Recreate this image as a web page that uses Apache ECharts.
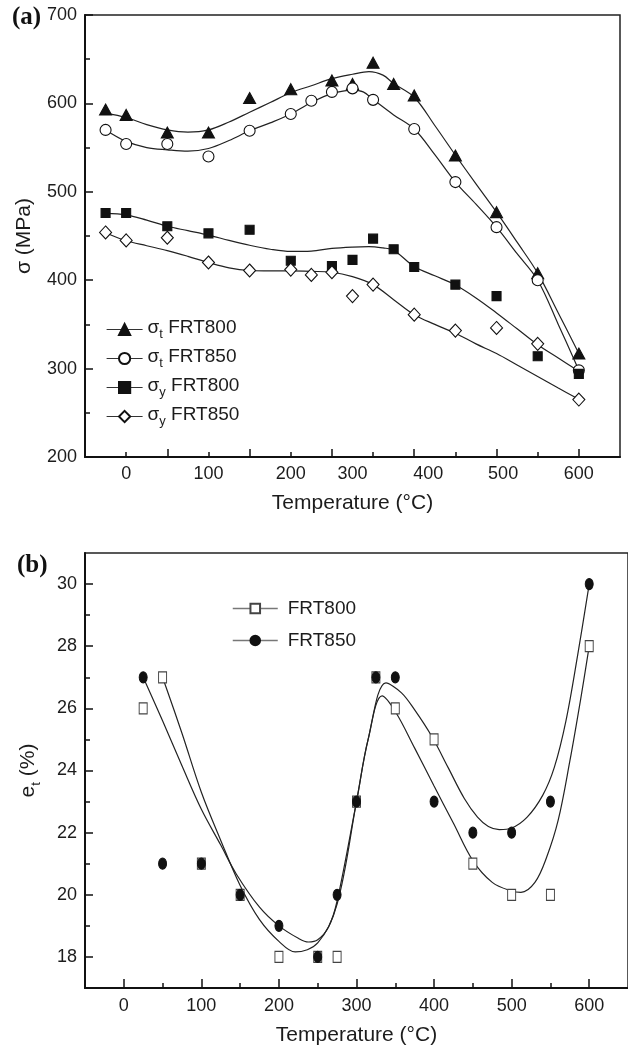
<!DOCTYPE html>
<html>
<head>
<meta charset="utf-8">
<script src="https://cdn.jsdelivr.net/npm/echarts@6/dist/echarts.min.js"></script>
<style>
  html, body { margin: 0; padding: 0; background: #fff; }
  #chart { width: 628px; height: 1047px; }
</style>
</head>
<body>
<div id="chart"></div>
<script>
// ── (a) Strength vs temperature: measured points ─────────────────────────
const tempT800 = [25, 50, 100, 150, 200, 250, 300, 325, 350, 375, 400, 450, 500, 550, 600];
const sigT800  = [593, 587, 567, 567, 606, 616, 626, 622, 646, 622, 609, 541, 477, 408, 317];
const tempT850 = [25, 50, 100, 150, 200, 250, 275, 300, 325, 350, 400, 450, 500, 550, 600];
const sigT850  = [570, 554, 554, 540, 569, 588, 603, 613, 617, 604, 571, 511, 460, 400, 298];
const tempY800 = [25, 50, 100, 150, 200, 250, 300, 325, 350, 375, 400, 450, 500, 550, 600];
const sigY800  = [476, 476, 461, 453, 457, 422, 416, 423, 447, 435, 415, 395, 382, 314, 294];
const tempY850 = [25, 50, 100, 150, 200, 250, 275, 300, 325, 350, 400, 450, 500, 550, 600];
const sigY850  = [454, 445, 448, 420, 411, 412, 406, 409, 382, 395, 361, 343, 346, 328, 265];

// ── (a) fitted curves ────────────────────────────────────────────────────
const fitT800x = [25, 50, 75, 100, 125, 150, 175, 200, 225, 250, 275, 300, 325, 345, 362, 375, 400, 425, 450, 475, 500, 525, 550, 575, 600];
const fitT800y = [589, 584, 576, 570, 567.5, 570, 579, 590, 601, 612, 620, 628, 633, 636, 632, 622.5, 607, 575, 541.5, 509, 477, 443, 408, 363, 317];
const fitT850x = [25, 50, 75, 100, 125, 150, 175, 200, 225, 250, 275, 300, 325, 338, 350, 375, 400, 425, 450, 475, 500, 525, 550, 575, 600];
const fitT850y = [570, 557, 550, 547.5, 546, 549, 558, 569, 578, 588, 601, 611, 615, 613, 604.5, 587, 571, 542, 511, 486, 460, 430, 400, 350, 298];
const fitY800x = [25, 50, 75, 100, 125, 150, 175, 200, 225, 250, 275, 300, 325, 345, 362, 375, 400, 425, 450, 475, 500, 525, 550, 575, 600];
const fitY800y = [475.6, 474, 468, 461, 456, 451, 445, 439.5, 435, 432.5, 433, 436, 437.5, 438, 436.5, 434, 415.5, 405, 394.6, 380, 363, 345, 327, 312, 297];
const fitY850x = [25, 50, 75, 100, 125, 150, 175, 200, 225, 250, 275, 300, 325, 350, 375, 400, 425, 450, 475, 500, 525, 550, 575, 600];
const fitY850y = [453.7, 444.6, 439, 433.5, 427, 420, 414, 411, 410.5, 410.5, 410, 409, 404, 395, 378, 361, 350, 340, 328, 317, 304, 291, 278, 265.4];

// ── (a) axis ticks / labels ──────────────────────────────────────────────
const xMajorA = [100, 200, 300, 400, 500, 600];
const xMinorA = [50, 150, 250, 350, 450, 550];
const xLabelPosA  = [50, 150, 250, 325, 417, 508, 600];   // where the printed labels sit
const xLabelTextA = ['0', '100', '200', '300', '400', '500', '600'];

// ── (b) Elongation vs temperature ────────────────────────────────────────
const tempB   = [25, 50, 100, 150, 200, 250, 275, 300, 325, 350, 400, 450, 500, 550, 600];
const elong800 = [26, 27, 21, 20, 18, 18, 18, 23, 27, 26, 25, 21, 20, 20, 28];
const elong850 = [27, 21, 21, 20, 19, 18, 20, 23, 27, 27, 23, 22, 22, 23, 30];

const fitE800x = [50, 75, 100, 125, 150, 175, 200, 221, 250, 275, 300, 315, 333, 350, 375, 400, 425, 450, 475, 500, 512, 530, 545, 560, 575, 589, 600];
const fitE800y = [27.0, 25.2, 23.3, 21.75, 20.3, 19.2, 18.5, 18.16, 18.45, 19.7, 23.0, 25.0, 26.4, 25.9, 24.72, 23.5, 22.3, 21.1, 20.4, 20.12, 20.08, 20.4, 21.2, 22.4, 24.3, 26.3, 28.0];
const fitE850x = [25, 50, 75, 100, 125, 145, 175, 200, 225, 238, 250, 264, 275, 300, 315, 338, 358, 375, 397, 418, 439, 456, 470, 484, 500, 520, 540, 555, 570, 585, 600];
const fitE850y = [27.0, 25.6, 24.15, 22.75, 21.6, 20.67, 19.6, 19.0, 18.6, 18.48, 18.55, 18.96, 19.8, 23.0, 25.0, 26.82, 26.5, 25.95, 25.1, 24.1, 23.1, 22.5, 22.2, 22.1, 22.15, 22.5, 23.2, 24.1, 25.6, 27.7, 30.0];

const xMajorB = [0, 100, 200, 300, 400, 500, 600];
const xMinorB = [50, 150, 250, 350, 450, 550];
const yMajorB = [18, 20, 22, 24, 26, 28, 30];
const yMinorB = [19, 21, 23, 25, 27, 29];

// ── helpers ──────────────────────────────────────────────────────────────
const FONT = 'Liberation Sans, Arial, sans-serif';
const INK = '#1c1c1c';
const zip = (xs, ys) => xs.map((x, i) => [x, ys[i]]);

function fitLine(xs, ys, xi, yi) {
  return {
    type: 'line', xAxisIndex: xi, yAxisIndex: yi, data: zip(xs, ys),
    smooth: 0.35, showSymbol: false, symbol: 'none', silent: true, z: 2,
    lineStyle: { color: '#222', width: 1.2 },
  };
}
function marks(name, xs, ys, xi, yi, symbol, size, fill, stroke) {
  return {
    name, type: 'line', xAxisIndex: xi, yAxisIndex: yi, data: zip(xs, ys),
    symbol, symbolSize: size, showSymbol: true, z: 3,
    lineStyle: { width: 0, opacity: 0 },
    itemStyle: { color: fill, borderColor: stroke, borderWidth: 1.1, opacity: 1 },
  };
}

const tickLabel = { color: INK, fontSize: 18, fontFamily: FONT };
const axisLine = { show: true, onZero: false, lineStyle: { color: '#111', width: 2 } };
const noLine = { show: false, onZero: false };
const tickLine = { color: '#111', width: 1.5 };
// g = normal text, s = subscript (g gets bottom padding so s sits lower)
const rich = {
  g: { fontSize: 19, fontFamily: FONT, color: INK, verticalAlign: 'bottom', padding: [0, 0, 4, 0] },
  s: { fontSize: 13, fontFamily: FONT, color: INK, verticalAlign: 'bottom' },
};
const labelFont = { fontFamily: 'Liberation Serif, serif', fontWeight: 'bold', fontSize: 25, color: '#111' };

const chart = echarts.init(document.getElementById('chart'), null, { renderer: 'canvas' });

chart.setOption({
  animation: false,
  backgroundColor: '#fff',
  title: [
    { text: '(a)', left: 12, top: 5, padding: 0, textStyle: labelFont },
    { text: '(b)', left: 17, top: 553, padding: 0, textStyle: labelFont },
  ],
  grid: [
    { left: 85, right: 8, top: 15, bottom: 590, show: true, borderColor: '#222', borderWidth: 1.5 },
    { left: 85, right: -3, top: 553, bottom: 56, show: true, borderColor: '#222', borderWidth: 1.5 },
  ],
  legend: [
    {
      orient: 'vertical', left: 106, top: 318, padding: 0, itemGap: 6,
      itemWidth: 36, itemHeight: 14, selectedMode: false,
      data: ['σt FRT800', 'σt FRT850', 'σy FRT800', 'σy FRT850'],
      lineStyle: { width: 1.2, color: '#333', opacity: 1 },
      formatter: n => `{g|σ}{s|${n[1]}}{g| ${n.slice(3)}}`,
      textStyle: { rich },
    },
    {
      orient: 'vertical', left: 232, top: 599, padding: 0, itemGap: 13,
      itemWidth: 45, itemHeight: 12, selectedMode: false,
      data: ['FRT800', 'FRT850'],
      lineStyle: { width: 1.5, color: '#777', opacity: 1 },
      textStyle: { fontSize: 19, fontFamily: FONT, color: INK, padding: [0, 0, 0, 5] },
    },
  ],
  xAxis: [
    { // (a) main
      type: 'value', gridIndex: 0, position: 'bottom', min: 0, max: 650,
      axisLine, splitLine: { show: false },
      axisTick: { show: true, inside: true, length: 8, customValues: xMajorA, lineStyle: tickLine },
      axisLabel: { ...tickLabel, margin: 8, customValues: xLabelPosA,
        formatter: v => xLabelTextA[xLabelPosA.indexOf(v)] },
      name: 'Temperature (°C)', nameLocation: 'middle', nameGap: 36,
      nameTextStyle: { fontSize: 21, fontFamily: FONT, color: INK },
    },
    { // (a) minor ticks
      type: 'value', gridIndex: 0, position: 'bottom', min: 0, max: 650,
      axisLine: noLine, splitLine: { show: false }, axisLabel: { show: false },
      axisTick: { show: true, inside: true, length: 5, customValues: xMinorA, lineStyle: tickLine },
    },
    { // (b) main
      type: 'value', gridIndex: 1, position: 'bottom', min: -50, max: 650,
      axisLine, splitLine: { show: false },
      axisTick: { show: true, inside: true, length: 9, customValues: xMajorB, lineStyle: tickLine },
      axisLabel: { ...tickLabel, margin: 9, customValues: xMajorB },
      name: 'Temperature (°C)', nameLocation: 'middle', nameGap: 37,
      nameTextStyle: { fontSize: 21, fontFamily: FONT, color: INK },
    },
    { // (b) minor ticks
      type: 'value', gridIndex: 1, position: 'bottom', min: -50, max: 650,
      axisLine: noLine, splitLine: { show: false }, axisLabel: { show: false },
      axisTick: { show: true, inside: true, length: 5, customValues: xMinorB, lineStyle: tickLine },
    },
  ],
  yAxis: [
    { // (a)
      type: 'value', gridIndex: 0, position: 'left', min: 200, max: 700, interval: 100,
      axisLine, splitLine: { show: false },
      axisTick: { show: true, inside: true, length: 8, lineStyle: tickLine },
      minorTick: { show: true, splitNumber: 2, length: 5, lineStyle: tickLine },
      axisLabel: { ...tickLabel, margin: 8 },
      name: 'σ (MPa)', nameLocation: 'middle', nameRotate: 90, nameGap: 50,
      nameTextStyle: { fontSize: 21, fontFamily: FONT, color: INK },
    },
    { // (b) main
      type: 'value', gridIndex: 1, position: 'left', min: 17, max: 31,
      axisLine, splitLine: { show: false },
      axisTick: { show: true, inside: true, length: 8, customValues: yMajorB, lineStyle: tickLine },
      axisLabel: { ...tickLabel, margin: 8, customValues: yMajorB },
      name: '{g|e}{s|t}{g| (%)}', nameLocation: 'middle', nameRotate: 90, nameGap: 42,
      nameTextStyle: { rich: { ...rich, g: { ...rich.g, fontSize: 21 } } },
    },
    { // (b) minor ticks
      type: 'value', gridIndex: 1, position: 'left', min: 17, max: 31,
      axisLine: noLine, splitLine: { show: false }, axisLabel: { show: false },
      axisTick: { show: true, inside: true, length: 5, customValues: yMinorB, lineStyle: tickLine },
    },
  ],
  series: [
    fitLine(fitT800x, fitT800y, 0, 0),
    fitLine(fitT850x, fitT850y, 0, 0),
    fitLine(fitY800x, fitY800y, 0, 0),
    fitLine(fitY850x, fitY850y, 0, 0),
    marks('σt FRT800', tempT800, sigT800, 0, 0, 'triangle', [12, 11], '#111', '#111'),
    marks('σt FRT850', tempT850, sigT850, 0, 0, 'circle', 11, '#fff', '#111'),
    marks('σy FRT800', tempY800, sigY800, 0, 0, 'rect', 9, '#111', '#111'),
    marks('σy FRT850', tempY850, sigY850, 0, 0, 'diamond', [12, 13], '#fff', '#111'),

    fitLine(fitE800x, fitE800y, 2, 1),
    fitLine(fitE850x, fitE850y, 2, 1),
    marks('FRT800', tempB, elong800, 2, 1, 'rect', [8, 11], '#fff', '#444'),
    marks('FRT850', tempB, elong850, 2, 1, 'circle', [8, 11], '#111', '#111'),
  ],
});
</script>
</body>
</html>
